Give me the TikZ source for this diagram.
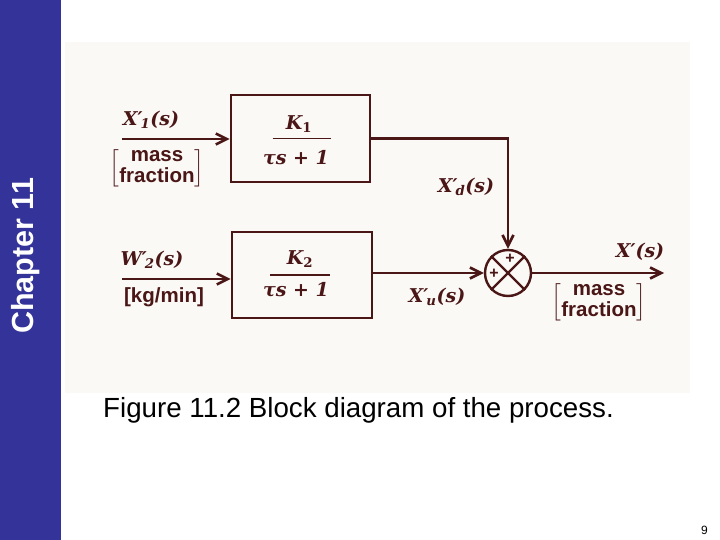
\RequirePackage{fix-cm}
\documentclass[tikz,border=0pt]{standalone}
\usepackage{fontspec}
\usepackage{amsmath}
\usetikzlibrary{arrows.meta}
\newfontfamily\arialf{Liberation Sans}
\newfontfamily\seriff{DejaVu Serif}
\newcommand{\bi}{\seriff\bfseries\itshape}
\newcommand{\br}{\seriff\bfseries}
\newcommand{\plab}[2]{$\text{\bi #1′}_{\kern-2pt\text{\bi #2}}\text{\bi (s)}$}
\definecolor{ink}{RGB}{74,22,22}
\definecolor{side}{RGB}{51,51,153}
\definecolor{scan}{RGB}{250,249,246}
\begin{document}
\begin{tikzpicture}[x=1pt,y=-1pt,
  blk/.style={draw=ink, line width=2.6pt, inner sep=0pt},
  conn/.style={draw=ink, line width=2.6pt, -{Straight Barb[length=11pt,width=11pt]}},
  mlab/.style={text=ink, inner sep=0pt, font=\fontsize{19}{22}\selectfont},
  slab/.style={text=ink, inner sep=0pt, font=\arialf\bfseries\fontsize{20.5}{20}\selectfont},
  plus/.style={text=ink, inner sep=0pt, font=\arialf\bfseries\fontsize{16}{16}\selectfont},
  rule/.style={draw=ink, line width=1.8pt}]
\useasboundingbox (0,0) rectangle (720,540);
\fill[white] (0,0) rectangle (720,540);
\fill[side] (0,0) rectangle (61,540);
\node[rotate=90, anchor=base, text=white, inner sep=0pt,
      font=\arialf\bfseries\fontsize{30.5}{36}\selectfont] (chap) at (33,256) {Chapter 11};
\fill[scan] (65,42) rectangle (690,393);
% caption and page number
\node[anchor=base west, inner sep=0pt, font=\arialf\fontsize{27.7}{33}\selectfont] (cap) at (103,417) {Figure 11.2 Block diagram of the process.};
\node[anchor=base east, inner sep=0pt, font=\arialf\fontsize{12}{14}\selectfont] (pg) at (708,534) {9};
% blocks
\node[blk, minimum width=139pt, minimum height=87pt] (b1) at (300.5,138.5) {};
\node[blk, minimum width=140pt, minimum height=86pt] (b2) at (302,275) {};
\node[mlab] (k1) at (299,124) {$\text{\bi K}_{\text{\br 1}}$};
\draw[rule] ([xshift=-28pt]b1.center) -- ([xshift=30pt]b1.center);
\node[mlab] (d1) at (296,158) {\bi τs + 1};
\node[mlab] (k2) at (300,259) {$\text{\bi K}_{\text{\br 2}}$};
\draw[rule] ([xshift=-32pt]b2.center) -- ([xshift=28pt]b2.center);
\node[mlab] (d2) at (296,290) {\bi τs + 1};
% summing junction
\node[draw=ink, line width=2.4pt, circle, minimum size=46pt, inner sep=0pt] (sum) at (508,273) {};
\draw[ink, line width=2.2pt] (sum.north west) -- (sum.south east) (sum.north east) -- (sum.south west);
\node[plus] (p1) at (510,259) {+};
\node[plus] (p2) at (494,274) {+};
% connectors
\coordinate (in1) at (122,139);
\coordinate (in2) at (122,279);
\coordinate (out) at (664,273);
\draw[conn] (in1) -- (in1 -| b1.west);
\draw[conn] (in2) -- (in2 -| b2.west);
\draw[conn] (b1.east) -| (sum.north);
\draw[conn] (b2.east |- sum.west) -- (sum.west);
\draw[conn] (sum.east) -- (out);
% labels
\node[mlab] (x1) at (151,120) {\plab{X}{\br 1}};
\node[slab] (u1) at (157,168) {$\left[\begin{tabular}{@{}c@{}}mass\\fraction\end{tabular}\right]$};
\node[mlab] (w2) at (152,260) {\plab{W}{\br 2}};
\node[slab] (u2) at (164,297) {[kg/min]};
\node[mlab] (xd) at (466,187) {\plab{X}{d}};
\node[mlab] (xu) at (437,297) {\plab{X}{u}};
\node[mlab] (xo) at (640,252) {\bi X′(s)};
\node[slab] (u3) at (599,302) {$\left[\begin{tabular}{@{}c@{}}mass\\fraction\end{tabular}\right]$};
\end{tikzpicture}
\end{document}
